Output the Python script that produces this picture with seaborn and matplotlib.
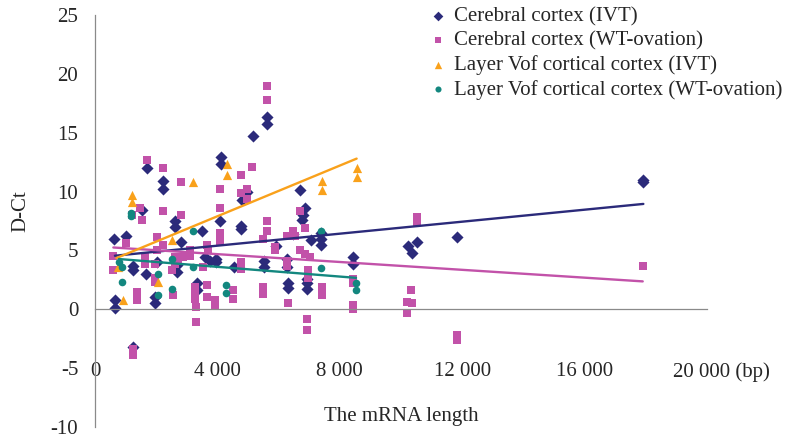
""" D-Ct against mRNA length, scatter with linear trend lines. """
import numpy as np
import pandas as pd
import seaborn as sns
import matplotlib.pyplot as plt
import matplotlib.transforms as mtransforms

sns.set_style("white")
plt.rcParams['font.family'] = ['Liberation Serif', 'DejaVu Serif']

series_names = ["Cerebral cortex (IVT)", "Cerebral cortex (WT-ovation)",
                "Layer Vof cortical cortex (IVT)", "Layer Vof cortical cortex (WT-ovation)"]

# Cerebral cortex (IVT)
cc_ivt_x = [620, 650, 650, 1000, 1230, 1230, 1250, 1520, 1660, 1700, 1960, 1960, 2010,
            2230, 2230, 2610, 2610, 2670, 2670, 2800, 3320, 3320, 3490, 3600, 3750,
            3950, 3950, 4120, 4120, 4100, 4530, 4770, 4770, 4790, 4960, 5170, 5610,
            5610, 5520, 5520, 5900, 6260, 6260, 6300, 6300, 6480, 6700, 6860, 6810,
            6750, 6920, 6920, 6920, 7060, 7400, 7400, 7400, 8440, 8440, 10240, 10350,
            10510, 11840, 17920, 17920]
cc_ivt_y = [6.0, 0.8, 0.15, 6.2, 3.7, 3.3, -3.2, 8.4, 3.0, 12.0, 1.05, 0.5, 4.0,
            10.9, 10.2, 7.5, 7.0, 3.8, 3.2, 5.7, 2.2, 1.6, 6.65, 4.4, 4.1,
            4.3, 4.0, 12.9, 12.3, 7.5, 3.6, 7.1, 6.8, 9.3, 10.0, 14.7, 16.3,
            15.7, 4.1, 3.6, 5.4, 4.3, 3.6, 2.2, 1.8, 6.4, 10.1, 8.6, 8.0,
            7.6, 2.6, 2.2, 1.75, 5.9, 6.5, 5.95, 5.5, 4.4, 3.85, 5.4, 4.8,
            5.7, 6.15, 11.0, 10.8]

# Cerebral cortex (WT-ovation)
cc_wt_x = [600, 600, 1000, 1220, 1230, 1230, 1360, 1360, 1470, 1520, 1630, 1630, 1690,
           1960, 1960, 1960, 2010, 2010, 2230, 2230, 2230, 2500, 2560, 2610, 2610,
           2720, 2800, 2800, 2890, 3100, 3100, 3270, 3270, 3270, 3300, 3300, 3540,
           3650, 3700, 3650, 3650, 3920, 3920, 4100, 4100, 4100, 4100, 4520, 4520,
           4770, 4770, 4960, 4960, 4770, 4770, 5140, 5500, 5500, 5500, 5610, 5610,
           5610, 5610, 5880, 5880, 6260, 6260, 6260, 6300, 6480, 6540, 6700, 6700,
           6860, 6860, 6920, 6920, 6970, 6970, 7030, 7410, 7410, 8420, 8420, 8440,
           8440, 10190, 10190, 10350, 10320, 10510, 10510, 11820, 11820, 17900]
cc_wt_y = [4.5, 3.3, 5.6, 8.0, -3.4, -3.9, 1.5, 0.8, 8.6, 7.55, 4.4, 3.85, 12.7,
           3.85, 2.7, 2.3, 6.1, 5.0, 12.0, 8.35, 5.5, 3.3, 1.2, 4.4, 3.85,
           4.3, 10.8, 8.05, 4.4, 5.0, 4.55, 1.9, 1.3, 0.9, 0.2, -1.05, 3.6,
           5.5, 5.1, 2.1, 1.05, 0.75, 0.35, 10.2, 8.6, 6.5, 5.8, 1.6, 0.9,
           11.4, 9.9, 10.2, 9.4, 4.0, 3.45, 12.1, 5.95, 1.9, 1.3, 19.0, 17.8,
           7.5, 6.65, 5.25, 5.0, 6.2, 4.1, 3.7, 0.5, 6.65, 6.2, 8.35, 5.0,
           6.9, 4.7, -0.8, -1.8, 3.3, 2.7, 4.4, 1.9, 1.2, 2.6, 2.2, 0.4,
           0.0, 0.6, -0.3, 0.5, 1.6, 7.8, 7.4, -2.2, -2.6, 3.7]

# Layer V of cortical cortex (IVT)
l5_ivt_x = [760, 900, 1200, 1200, 2070, 2500, 3190, 4300, 4300, 7410, 7410, 8550, 8550]
l5_ivt_y = [3.6, 0.75, 9.75, 9.1, 2.3, 5.85, 10.8, 12.35, 11.4, 10.9, 10.1, 12.0, 11.2]

# Layer V of cortical cortex (WT-ovation)
l5_wt_x = [780, 870, 870, 1180, 1180, 2070, 2070, 2500, 2500, 3190, 3190, 4280, 4280,
           7390, 7390, 8530, 8530]
l5_wt_y = [4.0, 3.6, 2.3, 8.2, 7.9, 3.0, 1.2, 4.3, 1.7, 6.65, 3.6, 2.1, 1.4,
           6.65, 3.5, 2.2, 1.6]

# linear trend lines (start / end)
trend_x = [[650, 17920], [600, 17900], [700, 8550], [780, 8530]]
trend_y = [[4.55, 8.95], [5.25, 2.37], [4.35, 12.8], [4.27, 2.67]]

x_ticks = [0, 4000, 8000, 12000, 16000, 20000]
x_tick_labels = ["0", "4 000", "8 000", "12 000", "16 000", "20 000 (bp)"]
y_ticks = [-10, -5, 0, 5, 10, 15, 20, 25]
y_tick_labels = ["-10", "-5", "0", "5", "10", "15", "20", "25"]

colors = ["#2B2A7A", "#C252A9", "#F9A11B", "#13877F"]
markers = ["D", "s", "^", "o"]
sizes = [38, 30, 44, 30]

all_x = [cc_ivt_x, cc_wt_x, l5_ivt_x, l5_wt_x]
all_y = [cc_ivt_y, cc_wt_y, l5_ivt_y, l5_wt_y]

fig = plt.figure(figsize=(7.93, 4.38), dpi=100)
ax = fig.add_axes([95 / 793, 11 / 438, 612 / 793, 412 / 438])

for i, name in enumerate(series_names):
    df = pd.DataFrame({"length": all_x[i], "dct": all_y[i]})
    sns.scatterplot(data=df, x="length", y="dct", ax=ax, color=colors[i],
                    marker=markers[i], s=sizes[i], linewidth=0, label=name, zorder=2)

for i in range(len(series_names)):
    tdf = pd.DataFrame({"length": trend_x[i], "dct": trend_y[i]})
    sns.lineplot(data=tdf, x="length", y="dct", ax=ax, color=colors[i],
                 linewidth=1.7, legend=False, zorder=3)

ax.set_xlim(0, 20000)
ax.set_ylim(-10, 25)
ax.set_xticks(x_ticks)
ax.set_xticklabels(x_tick_labels)
ax.set_yticks(y_ticks)
ax.set_yticklabels(y_tick_labels)
ax.set_xlabel("")
ax.set_ylabel("")

axis_grey = "#8A8A8A"
for side in ["top", "right"]:
    ax.spines[side].set_visible(False)
ax.spines["bottom"].set_position(("data", 0))
for side in ["left", "bottom"]:
    ax.spines[side].set_color(axis_grey)
    ax.spines[side].set_linewidth(0.9)
ax.tick_params(axis="y", direction="in", length=7, width=0.9, color=axis_grey,
               pad=12, labelsize=15)
ax.tick_params(axis="x", direction="in", length=7, width=0.9, color=axis_grey,
               pad=38, labelsize=15)

# the last label sits a bit to the right of its tick
shift = mtransforms.ScaledTranslation(14 / 100, 0, fig.dpi_scale_trans)
last_label = ax.get_xticklabels()[-1]
last_label.set_transform(last_label.get_transform() + shift)

fig.text(401 / 793, 1 - 416 / 438, "The mRNA length", ha="center", va="center", fontsize=15)
fig.text(21 / 793, 1 - 211 / 438, "D-Ct", rotation=90, ha="center", va="center", fontsize=15)

ax.legend(loc="upper left", bbox_to_anchor=(432 / 793, 1 - 7 / 438),
          bbox_transform=fig.transFigure, frameon=False, fontsize=15,
          handlelength=0.6, handletextpad=0.45, labelspacing=0.22,
          borderpad=0, borderaxespad=0, markerscale=0.8)

fig.savefig("out.png", dpi=100)
